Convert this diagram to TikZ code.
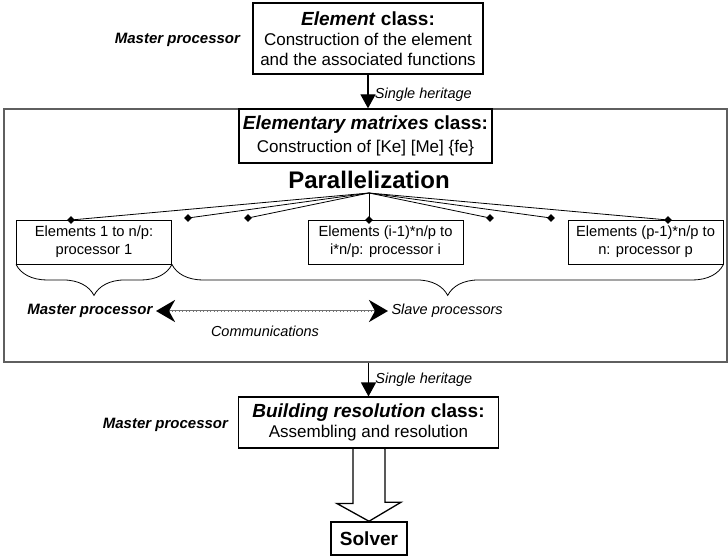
\documentclass[tikz,border=0pt]{standalone}
\usepackage{fontspec}
\setmainfont{Liberation Sans}
\usepackage{tikz}
\usetikzlibrary{arrows.meta,shapes,positioning,calc,decorations.pathreplacing}
\definecolor{framegray}{RGB}{95,95,95}
\newcommand{\fsize}[2]{\fontsize{#1}{#2}\selectfont}

\begin{document}
\begin{tikzpicture}[x=1pt, y=-1pt,
    classbox/.style={draw, line width=1.1pt, align=center, inner sep=0pt},
    procbox/.style={draw, line width=0.9pt, align=center, inner sep=0pt,
        minimum width=155pt, minimum height=44pt, font=\fsize{14.7}{18}},
    dot/.style={diamond, fill=black, inner sep=0pt, minimum size=8pt},
    heritage/.style={line width=1.3pt, -{Triangle[width=15pt,length=14pt]}},
    comm/.style={draw=gray!90!black, line width=2.6pt,
        {Stealth[length=19pt,width=22pt,inset=6pt,color=black]}-{Stealth[length=19pt,width=22pt,inset=6pt,color=black]}},
    commfill/.style={draw=white, line width=1pt, dash pattern=on 0.7pt off 0.7pt,
        shorten <=14pt, shorten >=14pt},
    lab/.style={font=\fsize{14.5}{17}\itshape},
    master/.style={font=\fsize{15}{18}\bfseries\itshape},
    brc/.style={decorate, decoration={brace, mirror, amplitude=31pt}, line width=0.8pt}]
    \useasboundingbox (0,0) rectangle (728,556);

    % Element class
    \node[classbox, minimum width=230pt, minimum height=71pt, font=\fsize{17}{20}] (elem) at (368,38.5)
        {{\fsize{19}{21}\textbf{\textit{Element} class:}}\\Construction of the element\\and the associated functions};
    \node[master, anchor=east] (mst1) at (243.5,40) {Master processor};

    % Elementary matrixes class, inside the frame
    \node[draw=framegray, line width=1.3pt, minimum width=723pt, minimum height=253pt, inner sep=0pt] (frame) at (365.5,235.5) {};
    \node[classbox, minimum width=253pt, minimum height=54pt, font=\fsize{17}{23}] (mat) at (365.5,136)
        {{\fsize{19}{23}\textbf{\textit{Elementary matrixes} class:}}\\Construction of [Ke] [Me] \{fe\}};
    \draw[heritage] (elem.south) -- (elem.south |- frame.north)
        node[lab, right=3pt, pos=0.6] {Single heritage};

    % Parallelization
    \node[font=\fsize{24}{26}\bfseries] (par) at (369,180) {Parallelization};
    \coordinate (hub) at (369,193);

    \node[procbox] (p1) at (94,242) {Elements 1 to n/p:\\processor 1};
    \node[procbox] (pi) at (385.5,242) {Elements (i-1)*n/p to\\i*n/p: processor i};
    \node[procbox] (pp) at (645.5,242) {Elements (p-1)*n/p to\\n: processor p};

    \node[dot] (d1) at (71,220) {};
    \node[dot] (d2) at (188,218) {};
    \node[dot] (d3) at (248,218) {};
    \node[dot] (d4) at (369,220) {};
    \node[dot] (d5) at (490,218) {};
    \node[dot] (d6) at (551,218) {};
    \node[dot] (d7) at (668,220) {};
    \draw[line width=0.8pt] (hub) -- (d1.center);
    \draw[line width=0.8pt] (hub) -- (d2.center);
    \draw[line width=0.8pt] (hub) -- (d3.center);
    \draw[line width=0.8pt] (hub) -- (d4.center);
    \draw[line width=0.8pt] (hub) -- (d5.center);
    \draw[line width=0.8pt] (hub) -- (d6.center);
    \draw[line width=0.8pt] (hub) -- (d7.center);

    % master and slaves
    \draw[brc] (p1.south west) -- (p1.south east);
    \draw[brc] (p1.south east) -- (pp.south east);
    \node[master, anchor=east] (mst2) at (156,311) {Master processor};
    \node[lab, anchor=west] (slv) at (388,311) {Slave processors};
    \draw[comm] (mst2.east) -- (slv.west);
    \draw[commfill] (mst2.east) -- (slv.west);
    \node[lab] (msg) at (265,331) {Communications};

    % Building resolution class
    \node[classbox, minimum width=260pt, minimum height=51pt, font=\fsize{17}{20}] (build) at (368.5,422.5)
        {{\fsize{19}{21}\textbf{\textit{Building resolution} class:}}\\Assembling and resolution};
    \node[master, anchor=east] (mst3) at (231.5,425) {Master processor};
    \draw[heritage] (frame.south -| build.north) -- (build.north)
        node[lab, right=3pt, pos=0.5] {Single heritage};

    % Solver
    \node[classbox, line width=1.5pt, minimum width=76pt, minimum height=33pt, font=\fsize{19}{21}\bfseries] (solver) at (369,538.5) {Solver};
    \draw[line width=1.3pt, line join=miter] ([xshift=-15.5pt]build.south) -- ++(0,55) -- ++(-16,0)
        -- (solver.north) -- ++(32,-19) -- ++(-16,0) |- ([xshift=15.5pt]build.south);
\end{tikzpicture}
\end{document}
